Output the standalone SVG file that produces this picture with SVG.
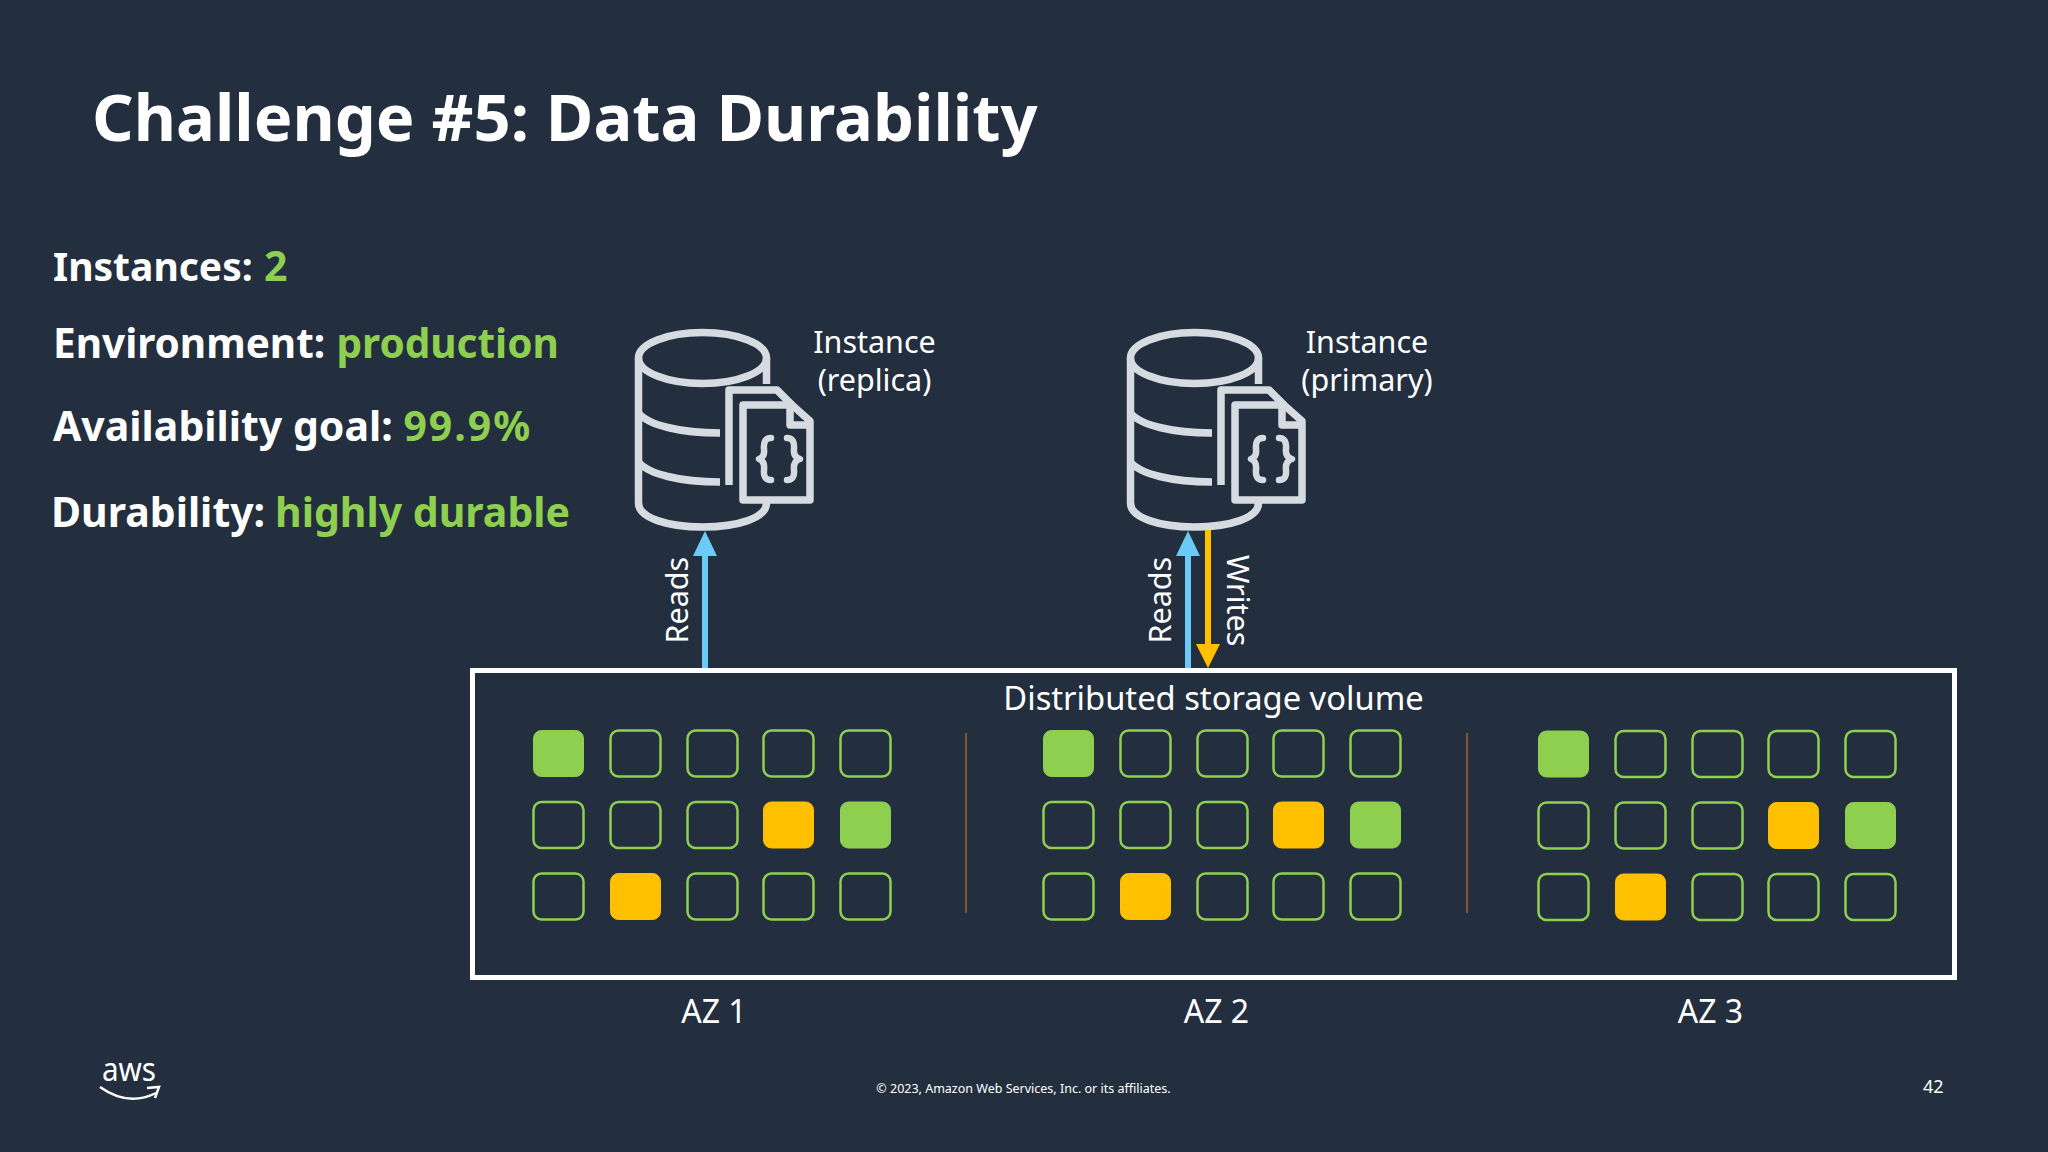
<svg xmlns="http://www.w3.org/2000/svg" width="2048" height="1152" viewBox="0 0 2048 1152">
<defs>
<style>
text{font-family:"Noto Sans","Open Sans",sans-serif;fill:#fff}
.h{font-size:41px;font-weight:700}
.g{fill:#8fcf4f}
.l{font-size:30.5px}
.a{font-size:32px}
.m{text-anchor:middle}
.e{fill:none;stroke:#8fcf4f;stroke-width:2.5}
.f{fill:#8fcf4f;stroke:#8fcf4f;stroke-width:1}
.y{fill:#ffc000;stroke:#ffc000;stroke-width:1}
.i{fill:none;stroke:#d5dbe1;stroke-width:7.5;stroke-linejoin:round}
.b{fill:none;stroke:#d5dbe1;stroke-width:6.5;stroke-linecap:round;stroke-linejoin:round}
.d{stroke:#a8622a;stroke-width:1.5}
</style>
<rect id="c" width="50" height="46" rx="8"/>
<g id="db">
<ellipse class="i" cx="702.500" cy="358" rx="64" ry="25.5"/>
<path class="i" d="M638.500 358V503C638.500 518 668 527 702.500 527C738 527 766.500 518 766.500 503M766.500 358V384"/>
<path class="i" d="M638.500 413C648 425 680 433 720 433M638.500 462C648 474 680 482 720 482"/>
<path class="i" d="M729 485V390H777L792 405"/>
<path class="i" d="M743 405H792L810 421V500H743Z"/>
<path class="i" d="M790 405V425H810"/>
<path class="b" d="M771 438Q763 438 764 449Q765 457 759 459Q765 461 764 470Q763 480 771 480M787 438Q795 438 794 449Q793 457 800 459Q793 461 794 470Q795 480 787 480"/>
</g>
<g id="grid">
<use href="#c" class="f" x="0" y="0"/><use href="#c" class="e" x="77" y="0"/><use href="#c" class="e" x="154" y="0"/><use href="#c" class="e" x="230" y="0"/><use href="#c" class="e" x="307" y="0"/>
<use href="#c" class="e" x="0" y="71.5"/><use href="#c" class="e" x="77" y="71.5"/><use href="#c" class="e" x="154" y="71.5"/><use href="#c" class="y" x="230" y="71.5"/><use href="#c" class="f" x="307" y="71.5"/>
<use href="#c" class="e" x="0" y="143"/><use href="#c" class="y" x="77" y="143"/><use href="#c" class="e" x="154" y="143"/><use href="#c" class="e" x="230" y="143"/><use href="#c" class="e" x="307" y="143"/>
</g>
</defs>
<rect width="2048" height="1152" fill="#232f3e"/>
<g id="title"><text x="92" y="141" font-size="65" font-weight="700">Challenge #5: Data Durability</text></g>
<g id="facts">
<text class="h" x="53" y="281" style="font-size:39px">Instances: <tspan class="g" x="264" style="font-size:41px">2</tspan></text>
<text class="h" x="53" y="358" style="font-size:40.5px">Environment: <tspan class="g" x="336.500">production</tspan></text>
<text class="h" x="53" y="441">Availability goal: <tspan class="g" letter-spacing="2">99.9%</tspan></text>
<text class="h" x="51" y="527">Durability: <tspan class="g" x="275">highly durable</tspan></text>
</g>
<g id="replica"><use href="#db"/><text class="l m" x="874.500" y="353">Instance</text><text class="l m" x="874.500" y="391">(replica)</text></g>
<g id="primary"><use href="#db" x="492"/><text class="l m" x="1367" y="353">Instance</text><text class="l m" x="1367" y="391">(primary)</text></g>
<g id="connectors">
<path d="M705 668V550" stroke="#6ccbf6" stroke-width="6" fill="none"/><path d="M705 531L717 556H693Z" fill="#6ccbf6"/>
<path d="M1188 668V550" stroke="#6ccbf6" stroke-width="6" fill="none"/><path d="M1188 531L1200 556H1176Z" fill="#6ccbf6"/>
<path d="M1208 530V650" stroke="#ffc000" stroke-width="6" fill="none"/><path d="M1208 668L1220 644H1196Z" fill="#ffc000"/>
<text class="l" transform="translate(688 643.500) rotate(-90)">Reads</text>
<text class="l" transform="translate(1171 643.500) rotate(-90)">Reads</text>
<text class="l" transform="translate(1227 555) rotate(90)">Writes</text>
</g>
<g id="storage">
<rect x="472.500" y="670.500" width="1482" height="307" fill="none" stroke="#fff" stroke-width="5"/>
<text class="m" x="1213.500" y="710" font-size="32.700">Distributed storage volume</text>
<use href="#grid" x="533.500" y="730.500"/>
<use href="#grid" x="1043.500" y="730.500"/>
<use href="#grid" x="1538.500" y="731"/>
<line class="d" x1="966" y1="733" x2="966" y2="913"/>
<line class="d" x1="1467" y1="733" x2="1467" y2="913"/>
</g>
<g id="az">
<text class="a m" x="714" y="1023">AZ 1</text>
<text class="a m" x="1216.500" y="1023">AZ 2</text>
<text class="a m" x="1710.500" y="1023">AZ 3</text>
</g>
<g id="footer">
<text x="102" y="1081" font-size="33" textLength="54" lengthAdjust="spacingAndGlyphs">aws</text>
<path d="M100 1087Q128 1107 156 1093" fill="none" stroke="#fff" stroke-width="2.500"/>
<path d="M147 1088L159 1087L155 1098" fill="none" stroke="#fff" stroke-width="2.500"/>
<text class="m" x="1023.500" y="1093" font-size="12.500">© 2023, Amazon Web Services, Inc. or its affiliates.</text>
<text x="1923" y="1093" font-size="18">42</text>
</g>
</svg>
